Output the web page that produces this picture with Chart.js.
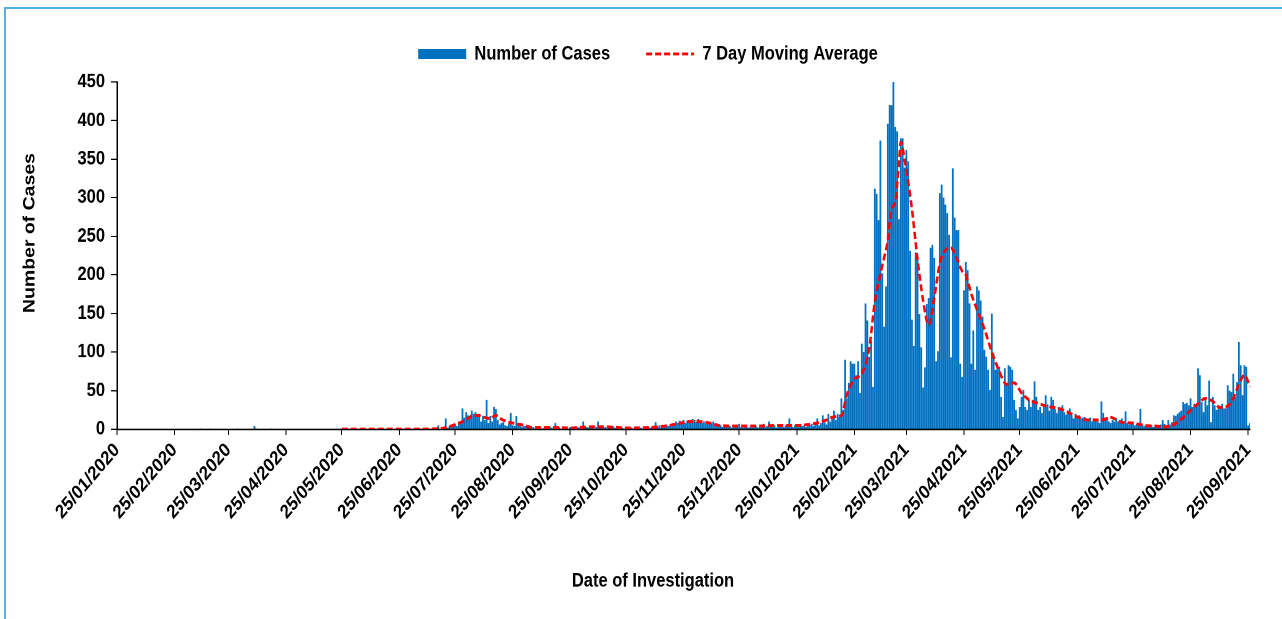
<!DOCTYPE html>
<html>
<head>
<meta charset="utf-8">
<title>Number of Cases by Date of Investigation</title>
<script src="https://cdn.jsdelivr.net/npm/chart.js@4.4.1/dist/chart.umd.min.js"></script>
<style>
  html, body { margin: 0; padding: 0; background: #fff; }
  body { width: 1282px; height: 619px; overflow: hidden; position: relative; }
  #frame {
    position: absolute; left: 4px; top: 7px; right: 0; bottom: 0;
    border-left: 2px solid #4fb3e8; border-top: 2px solid #4fb3e8;
  }
  #casesChart { position: absolute; left: 0; top: 0; }
</style>
</head>
<body>
<div id="frame"></div>
<!-- drawn 525px high and stretched to 619px, like the original picture -->
<canvas id="casesChart" width="1282" height="525" style="width:1282px;height:619px"></canvas>
<script>
const FONT = '"Liberation Sans", Arial, sans-serif';
const STRETCH = 619 / 525;

const xTitle = "Date of Investigation";
const yTitle = "Number of Cases";

// daily cases, first day is 25/01/2020
const startDay = Date.UTC(2020, 0, 25);

const casesJan2020 = [0, 0, 0, 0, 0, 0, 0];
const casesFeb2020 = [0, 0, 0, 0, 0, 0, 0, 0, 0, 0, 0, 0, 0, 0, 0, 0, 0, 0, 0, 0, 0, 0, 0, 0, 0, 0, 0, 0, 0];
const casesMar2020 = [0, 0, 0, 0, 0, 0, 0, 0, 0, 1, 0, 0, 0, 0, 1, 0, 0, 0, 0, 0, 0, 0, 0, 0, 0, 0, 0, 0, 0, 1, 0];
const casesApr2020 = [0, 0, 0, 0, 0, 0, 0, 4, 1, 0, 0, 0, 0, 0, 0, 0, 1, 0, 0, 0, 0, 0, 0, 0, 0, 0, 0, 0, 0, 0];
const casesMay2020 = [0, 0, 0, 0, 0, 0, 0, 0, 0, 0, 0, 0, 0, 0, 0, 0, 0, 0, 0, 0, 0, 0, 0, 0, 0, 0, 0, 0, 0, 0, 0];
const casesJun2020 = [0, 0, 0, 0, 0, 0, 0, 0, 0, 0, 0, 0, 0, 0, 0, 0, 0, 0, 0, 0, 0, 0, 0, 0, 0, 0, 0, 0, 0, 0];
const casesJul2020 = [0, 0, 0, 0, 0, 0, 0, 0, 0, 0, 0, 0, 0, 0, 0, 5, 0, 1, 2, 14, 2, 4, 5, 6, 7, 4, 9, 10, 27, 15, 22];
const casesAug2020 = [18, 14, 24, 20, 22, 18, 20, 10, 17, 12, 38, 8, 17, 10, 29, 26, 12, 6, 8, 9, 5, 4, 7, 21, 5, 4, 17, 8, 5, 3, 4];
const casesSep2020 = [4, 3, 5, 2, 3, 1, 2, 3, 2, 1, 2, 3, 1, 4, 2, 1, 8, 1, 3, 1, 2, 1, 2, 1, 3, 2, 1, 2, 3, 2];
const casesOct2020 = [3, 10, 2, 3, 2, 3, 2, 1, 3, 10, 4, 5, 2, 3, 1, 2, 3, 4, 2, 1, 2, 1, 2, 1, 2, 1, 1, 2, 1, 1, 2];
const casesNov2020 = [1, 2, 1, 2, 1, 3, 2, 3, 4, 9, 3, 5, 2, 4, 3, 5, 4, 6, 5, 7, 10, 8, 11, 9, 12, 8, 11, 10, 12, 13];
const casesDec2020 = [12, 9, 13, 10, 8, 10, 7, 10, 6, 8, 10, 5, 6, 4, 5, 3, 4, 5, 3, 4, 2, 4, 3, 5, 7, 3, 2, 4, 3, 2, 3];
const casesJan2021 = [2, 3, 4, 2, 3, 5, 7, 3, 4, 10, 4, 3, 5, 2, 3, 4, 6, 3, 5, 4, 14, 4, 3, 5, 4, 3, 6, 4, 5, 3, 6];
const casesFeb2021 = [5, 7, 4, 8, 14, 5, 8, 18, 9, 6, 20, 10, 15, 24, 12, 20, 16, 40, 25, 90, 40, 60, 88, 85, 85, 70, 88, 47];
const casesMar2021 = [111, 100, 163, 141, 94, 115, 55, 312, 305, 271, 374, 202, 133, 185, 396, 420, 420, 450, 392, 386, 272, 377, 377, 339, 362, 347, 231, 142, 108, 229, 225];
const casesApr2021 = [149, 106, 54, 80, 162, 170, 235, 239, 222, 88, 101, 306, 317, 300, 291, 280, 252, 93, 338, 274, 258, 258, 85, 68, 180, 217, 206, 163, 85, 128];
const casesMay2021 = [77, 185, 180, 167, 146, 103, 94, 77, 51, 150, 98, 77, 85, 81, 42, 16, 79, 60, 83, 81, 77, 38, 25, 14, 29, 42, 51, 29, 25, 38, 29];
const casesJun2021 = [38, 62, 42, 25, 29, 21, 30, 44, 32, 24, 42, 38, 26, 21, 29, 25, 31, 22, 19, 24, 27, 18, 14, 20, 16, 18, 14, 15, 16, 12];
const casesJul2021 = [12, 15, 10, 14, 12, 10, 8, 36, 21, 12, 16, 10, 8, 12, 10, 14, 10, 12, 14, 10, 23, 8, 6, 7, 9, 5, 7, 8, 26, 6, 4];
const casesAug2021 = [5, 4, 3, 5, 3, 4, 5, 4, 6, 12, 7, 5, 12, 6, 9, 18, 17, 20, 22, 24, 35, 33, 34, 31, 40, 29, 33, 31, 79, 70, 35];
const casesSep2021 = [22, 40, 31, 63, 9, 42, 31, 25, 27, 29, 33, 27, 27, 57, 50, 48, 72, 42, 61, 113, 83, 44, 83, 81, 5, 8];

// 7 day moving average
const maDates = [
  "25/05/2020", "10/06/2020", "01/07/2020", "15/07/2020", "20/07/2020", "25/07/2020", "30/07/2020",
  "03/08/2020", "06/08/2020", "10/08/2020", "13/08/2020", "16/08/2020", "19/08/2020", "23/08/2020", "27/08/2020", "31/08/2020",
  "05/09/2020", "15/09/2020", "25/09/2020", "05/10/2020", "15/10/2020", "25/10/2020",
  "05/11/2020", "15/11/2020", "22/11/2020", "28/11/2020", "03/12/2020", "09/12/2020", "15/12/2020", "25/12/2020",
  "05/01/2021", "15/01/2021", "25/01/2021", "05/02/2021", "10/02/2021", "14/02/2021", "18/02/2021", "21/02/2021", "25/02/2021",
  "01/03/2021", "05/03/2021", "08/03/2021", "12/03/2021", "15/03/2021", "17/03/2021", "19/03/2021", "21/03/2021", "22/03/2021",
  "24/03/2021", "26/03/2021", "28/03/2021", "31/03/2021",
  "03/04/2021", "06/04/2021", "09/04/2021", "12/04/2021", "15/04/2021", "18/04/2021", "21/04/2021", "24/04/2021", "26/04/2021", "29/04/2021",
  "02/05/2021", "06/05/2021", "10/05/2021", "14/05/2021", "18/05/2021", "22/05/2021", "26/05/2021", "30/05/2021",
  "03/06/2021", "10/06/2021", "15/06/2021", "20/06/2021", "25/06/2021",
  "01/07/2021", "08/07/2021", "13/07/2021", "19/07/2021", "25/07/2021", "31/07/2021",
  "06/08/2021", "11/08/2021", "16/08/2021", "20/08/2021", "24/08/2021", "29/08/2021",
  "02/09/2021", "06/09/2021", "10/09/2021", "14/09/2021", "17/09/2021", "20/09/2021", "23/09/2021", "26/09/2021",
];
const maValues = [
  0, 0, 0, 0.5, 2, 6, 11,
  17, 18, 15, 14, 18, 13, 9, 7, 5,
  2, 2, 1.5, 3, 3, 1.5,
  2, 4, 7, 10, 10, 8, 4.5, 4,
  4, 5, 5, 8, 12, 16, 18, 45, 65,
  72, 105, 165, 212, 245, 285, 295, 345, 372,
  350, 320, 285, 220,
  167, 135, 170, 215, 232, 235, 222, 205, 200, 175,
  155, 130, 100, 75, 58, 60, 47, 38,
  34, 29, 27, 22, 16,
  12, 12, 15, 9, 8, 5,
  4, 3, 6, 13, 22, 33,
  40, 36, 28, 30, 40, 58, 70, 55,
];

const tickLabels = [
  "25/01/2020", "25/02/2020", "25/03/2020", "25/04/2020", "25/05/2020", "25/06/2020", "25/07/2020",
  "25/08/2020", "25/09/2020", "25/10/2020", "25/11/2020", "25/12/2020", "25/01/2021", "25/02/2021",
  "25/03/2021", "25/04/2021", "25/05/2021", "25/06/2021", "25/07/2021", "25/08/2021", "25/09/2021",
];

const cases = [].concat(
  casesJan2020, casesFeb2020, casesMar2020, casesApr2020, casesMay2020, casesJun2020,
  casesJul2020, casesAug2020, casesSep2020, casesOct2020, casesNov2020, casesDec2020,
  casesJan2021, casesFeb2021, casesMar2021, casesApr2021, casesMay2021, casesJun2021,
  casesJul2021, casesAug2021, casesSep2021,
);

function formatDay(index) {
  const d = new Date(startDay + index * 86400000);
  const dd = String(d.getUTCDate()).padStart(2, "0");
  const mm = String(d.getUTCMonth() + 1).padStart(2, "0");
  return `${dd}/${mm}/${d.getUTCFullYear()}`;
}

const dayLabels = cases.map((_, i) => formatDay(i));

const movingAverage = dayLabels.map((label) => {
  const i = maDates.indexOf(label);
  return i === -1 ? null : maValues[i];
});

// a bit more room between the legend and the plot
const legendGap = {
  id: "legendGap",
  beforeInit(chart) {
    const fit = chart.legend.fit;
    chart.legend.fit = function () {
      fit.call(this);
      this.height += 5.5;
    };
  },
};

const axisTitles = {
  id: "axisTitles",
  afterDraw(chart) {
    const ctx = chart.ctx;
    ctx.save();
    ctx.fillStyle = "#000";
    ctx.font = `bold 16.5px ${FONT}`;
    ctx.textAlign = "center";
    ctx.textBaseline = "middle";
    ctx.fillText(xTitle, 653, 581 / STRETCH);
    ctx.translate(30, 233 / STRETCH);
    ctx.rotate(-Math.PI / 2);
    ctx.fillText(yTitle, 0, 0);
    ctx.restore();
  },
};

Chart.defaults.font.family = FONT;
Chart.defaults.font.weight = "bold";
Chart.defaults.font.size = 16.5;
Chart.defaults.color = "#000";

const ctx = document.getElementById("casesChart").getContext("2d");

new Chart(ctx, {
  type: "bar",
  data: {
    labels: dayLabels,
    datasets: [
      {
        type: "bar",
        label: "Number of Cases",
        data: cases,
        backgroundColor: "#0070C0",
        borderWidth: 0,
        barPercentage: 0.95,
        categoryPercentage: 1,
        pointStyle: "rect",
        order: 2,
      },
      {
        type: "line",
        label: "7 Day Moving Average",
        data: movingAverage,
        borderColor: "#FF0000",
        backgroundColor: "#FF0000",
        borderWidth: 2.5,
        borderDash: [6, 3],
        pointRadius: 0,
        pointHoverRadius: 0,
        spanGaps: true,
        cubicInterpolationMode: "monotone",
        fill: false,
        pointStyle: "line",
        order: 1,
      },
    ],
  },
  options: {
    responsive: false,
    devicePixelRatio: 2,
    animation: false,
    events: [],
    layout: {
      padding: { left: 46, right: 32, top: 1.5, bottom: 0 },
    },
    plugins: {
      tooltip: { enabled: false },
      legend: {
        position: "top",
        labels: {
          usePointStyle: true,
          pointStyleWidth: 48,
          boxHeight: 8.5,
          padding: 36,
          color: "#000",
          font: { size: 16.5, weight: "bold" },
          sort: (a, b) => a.datasetIndex - b.datasetIndex,
          generateLabels(chart) {
            const items = Chart.defaults.plugins.legend.labels.generateLabels(chart);
            items.forEach((item) => {
              const ds = chart.data.datasets[item.datasetIndex];
              if (ds.type === "line") {
                item.lineDash = ds.borderDash;
                item.lineWidth = ds.borderWidth;
                item.strokeStyle = ds.borderColor;
              }
            });
            return items;
          },
        },
      },
    },
    scales: {
      x: {
        offset: false,
        grid: { offset: false, drawOnChartArea: false, tickLength: 5, color: "#000" },
        border: { color: "#000", width: 1.5 },
        ticks: {
          autoSkip: false,
          minRotation: 45,
          maxRotation: 45,
          padding: 3,
          color: "#000",
          font: { size: 16.5, weight: "bold" },
          callback(value) {
            const label = this.getLabelForValue(value);
            return tickLabels.includes(label) ? label : null;
          },
        },
        afterFit(scale) {
          scale.height = 161;
        },
      },
      y: {
        min: 0,
        max: 450,
        grid: { drawOnChartArea: false, tickLength: 6, color: "#000" },
        border: { color: "#000", width: 1.5 },
        ticks: {
          stepSize: 50,
          padding: 6,
          color: "#000",
          font: { size: 16.5, weight: "bold" },
        },
        afterFit(scale) {
          scale.width = 71;
        },
      },
    },
  },
  plugins: [legendGap, axisTitles],
});
</script>
</body>
</html>
